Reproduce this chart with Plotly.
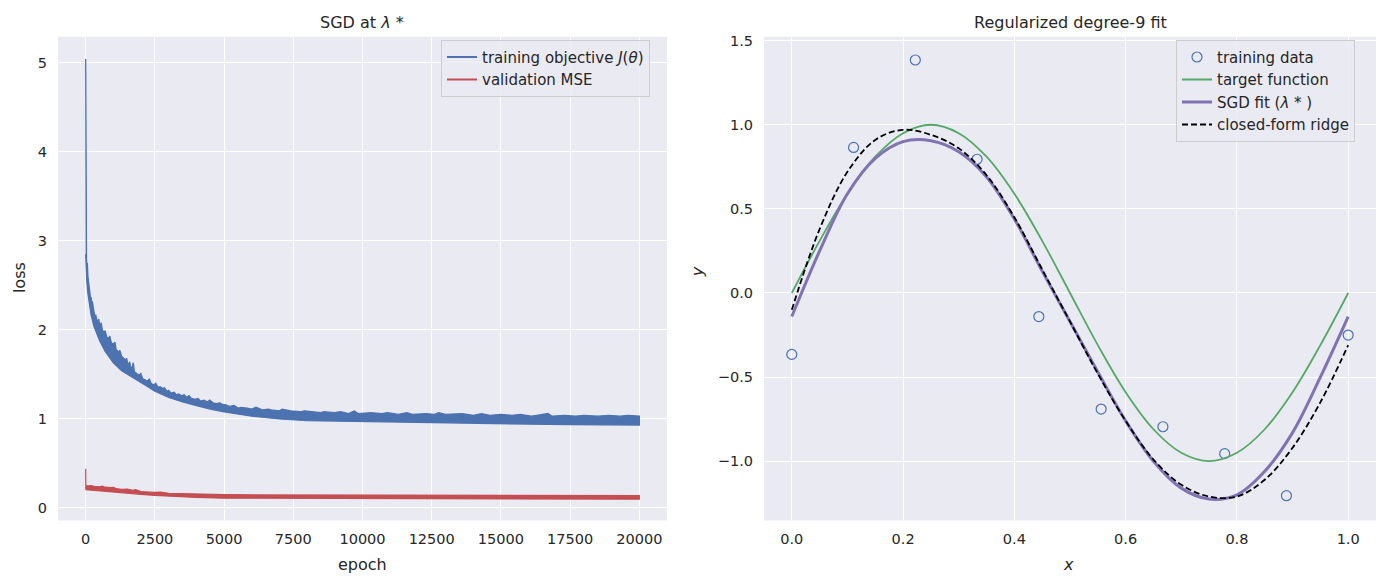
import plotly.graph_objects as go

# ---------------- data: left panel (loss curves, read as noisy-band envelopes) ----------------
# upper edge of the noisy training-objective trace: (epoch, loss)
train_upper = [
    (0, 5.04), (6, 3.00), (15, 2.86), (30, 2.79), (45, 2.72), (60, 2.75), (80, 2.60), (100, 2.55),
    (125, 2.46), (140, 2.49), (170, 2.37), (200, 2.36), (215, 2.29), (240, 2.32), (275, 2.21),
    (300, 2.20), (340, 2.14), (365, 2.17), (400, 2.11), (440, 2.10), (470, 2.12), (520, 2.03),
    (560, 2.08), (600, 2.00), (660, 1.97), (700, 1.99), (760, 1.92), (830, 1.90), (870, 1.93),
    (930, 1.85), (990, 1.84), (1060, 1.86), (1100, 1.78), (1180, 1.75), (1230, 1.77), (1300, 1.70),
    (1380, 1.68), (1420, 1.66), (1480, 1.68), (1530, 1.60), (1590, 1.64), (1630, 1.57), (1680, 1.58),
    (1720, 1.63), (1760, 1.53), (1850, 1.51), (1930, 1.49), (1990, 1.51), (2060, 1.45), (2150, 1.44),
    (2220, 1.42), (2300, 1.45), (2360, 1.40), (2450, 1.38), (2530, 1.40), (2600, 1.36), (2700, 1.36),
    (2780, 1.34), (2850, 1.35), (2930, 1.31), (3000, 1.32), (3080, 1.29), (3200, 1.30), (3280, 1.27),
    (3360, 1.28), (3470, 1.26), (3560, 1.27), (3640, 1.24), (3730, 1.26), (3820, 1.23), (3950, 1.22),
    (4060, 1.23), (4150, 1.20), (4280, 1.21), (4400, 1.19), (4480, 1.21), (4600, 1.18), (4720, 1.17),
    (4850, 1.18), (4950, 1.16), (5040, 1.16), (5200, 1.14), (5360, 1.15), (5520, 1.12), (5600, 1.13),
    (5840, 1.12), (6000, 1.11), (6150, 1.13), (6400, 1.10), (6600, 1.11), (6700, 1.10), (7000, 1.09),
    (7100, 1.11), (7400, 1.09), (7750, 1.08), (7900, 1.09), (8250, 1.08), (8500, 1.07), (8600, 1.08),
    (9000, 1.07), (9200, 1.08), (9500, 1.06), (9700, 1.09), (9850, 1.06), (10300, 1.07), (10700, 1.06),
    (10900, 1.07), (11300, 1.05), (11600, 1.07), (11800, 1.05), (12300, 1.06), (12600, 1.05),
    (12750, 1.07), (13000, 1.05), (13600, 1.06), (14000, 1.04), (14300, 1.06), (14600, 1.04),
    (15000, 1.05), (15400, 1.04), (15700, 1.05), (16100, 1.03), (16300, 1.04), (16700, 1.06),
    (16850, 1.03), (17300, 1.04), (17700, 1.03), (18000, 1.04), (18500, 1.03), (18900, 1.04),
    (19300, 1.03), (19600, 1.04), (20000, 1.03),
]
# lower edge of the training-objective trace
train_lower = [
    (0, 2.85), (10, 2.70), (40, 2.55), (80, 2.41), (120, 2.31), (200, 2.16), (300, 2.04), (400, 1.95),
    (500, 1.88), (700, 1.76), (1000, 1.63), (1300, 1.54), (1600, 1.48), (1900, 1.43), (2200, 1.37),
    (2500, 1.31), (3000, 1.24), (3500, 1.19), (4000, 1.15), (4500, 1.11), (5000, 1.08), (6000, 1.03),
    (7000, 1.00), (8000, 0.98), (10000, 0.965), (12500, 0.955), (15000, 0.945), (17500, 0.935),
    (20000, 0.93),
]
# validation MSE trace edges
val_upper = [
    (0, 0.44), (5, 0.25), (100, 0.247), (200, 0.252), (300, 0.243), (500, 0.238), (600, 0.244),
    (700, 0.233), (900, 0.228), (1000, 0.232), (1100, 0.218), (1300, 0.208), (1500, 0.213),
    (1700, 0.198), (1800, 0.206), (2000, 0.185), (2500, 0.174), (2700, 0.178), (3000, 0.165),
    (3500, 0.16), (4000, 0.155), (5000, 0.15), (6000, 0.147), (8000, 0.145), (10000, 0.145),
    (12500, 0.143), (15000, 0.142), (17500, 0.141), (20000, 0.14),
]
val_lower = [
    (0, 0.24), (10, 0.205), (500, 0.197), (1000, 0.183), (1500, 0.168), (2000, 0.153), (2500, 0.141),
    (3000, 0.131), (4000, 0.118), (5000, 0.11), (7500, 0.104), (10000, 0.102), (15000, 0.1),
    (20000, 0.098),
]

# ---------------- data: right panel ----------------
train_x = [0.0, 0.111, 0.222, 0.333, 0.444, 0.556, 0.667, 0.778, 0.889, 1.0]
train_y = [-0.365, 0.865, 1.385, 0.795, -0.14, -0.69, -0.795, -0.955, -1.205, -0.25]

curve_x = [0.0, 0.05, 0.1, 0.15, 0.2, 0.25, 0.3, 0.35, 0.4, 0.45, 0.5, 0.55, 0.6, 0.65, 0.7, 0.75,
           0.8, 0.85, 0.9, 0.95, 1.0]
target_y = [0.0, 0.31, 0.59, 0.81, 0.95, 1.0, 0.95, 0.81, 0.59, 0.31, 0.0, -0.31, -0.59, -0.81,
            -0.95, -1.0, -0.95, -0.81, -0.59, -0.31, 0.0]
sgd_y = [-0.14, 0.25, 0.59, 0.80, 0.90, 0.905, 0.84, 0.69, 0.44, 0.13, -0.17, -0.47, -0.76, -1.0,
         -1.16, -1.225, -1.20, -1.06, -0.83, -0.50, -0.14]
ridge_y = [-0.10, 0.38, 0.72, 0.91, 0.97, 0.94, 0.86, 0.70, 0.45, 0.14, -0.17, -0.48, -0.76, -0.99,
           -1.14, -1.21, -1.21, -1.11, -0.92, -0.65, -0.31]

# ---------------- styles ----------------
W, H = 1384, 583
BLUE, RED, GREEN, PURPLE = "#4C72B0", "#C44E52", "#55A868", "#8172B2"
BG = "#EAEAF2"
TXT = "#262626"
FONT = "DejaVu Sans"


def px(x):
    return x / W


def py(y):
    return (H - y) / H


def band(upper, lower):
    xs = [e for e, _ in upper] + [e for e, _ in lower[::-1]]
    ys = [v for _, v in upper] + [v for _, v in lower[::-1]]
    return xs, ys


fig = go.Figure()

# left panel: noisy traces drawn as filled bands between their edges
bx, by = band(train_upper, train_lower)
fig.add_trace(go.Scatter(x=bx, y=by, fill="toself", fillcolor=BLUE, mode="lines",
                         line=dict(color=BLUE, width=1.3), showlegend=False, hoverinfo="skip",
                         xaxis="x", yaxis="y"))
rx, ry = band(val_upper, val_lower)
fig.add_trace(go.Scatter(x=rx, y=ry, fill="toself", fillcolor=RED, mode="lines",
                         line=dict(color=RED, width=1.2), showlegend=False, hoverinfo="skip",
                         xaxis="x", yaxis="y"))
# legend entries
fig.add_trace(go.Scatter(x=[None], y=[None], mode="lines", line=dict(color=BLUE, width=2),
                         name="training objective <i>J</i>(<i>θ</i>)", legend="legend",
                         xaxis="x", yaxis="y"))
fig.add_trace(go.Scatter(x=[None], y=[None], mode="lines", line=dict(color=RED, width=2),
                         name="validation MSE", legend="legend", xaxis="x", yaxis="y"))

# right panel
fig.add_trace(go.Scatter(x=train_x, y=train_y, mode="markers", name="training data",
                         marker=dict(symbol="circle-open", size=10, color=BLUE, line=dict(width=1.2)),
                         legend="legend2", xaxis="x2", yaxis="y2"))
fig.add_trace(go.Scatter(x=curve_x, y=target_y, mode="lines", name="target function",
                         line=dict(color=GREEN, width=1.8, shape="spline", smoothing=1.0),
                         legend="legend2", xaxis="x2", yaxis="y2"))
fig.add_trace(go.Scatter(x=curve_x, y=sgd_y, mode="lines", name="SGD fit (<i>λ</i> * )",
                         line=dict(color=PURPLE, width=3, shape="spline", smoothing=1.0),
                         legend="legend2", xaxis="x2", yaxis="y2"))
fig.add_trace(go.Scatter(x=curve_x, y=ridge_y, mode="lines", name="closed-form ridge",
                         line=dict(color="black", width=1.8, dash="6px,3px", shape="spline", smoothing=1.0),
                         legend="legend2", xaxis="x2", yaxis="y2"))

axis_common = dict(showgrid=True, gridcolor="white", gridwidth=1.4, zeroline=False, showline=False,
                   ticks="", tickfont=dict(family=FONT, size=14.5, color=TXT))

left_ticks = [0, 2500, 5000, 7500, 10000, 12500, 15000, 17500, 20000]
right_xticks = [0.0, 0.2, 0.4, 0.6, 0.8, 1.0]
right_yticks = [-1.0, -0.5, 0.0, 0.5, 1.0, 1.5]

fig.update_layout(
    width=W, height=H, margin=dict(l=0, r=0, t=0, b=0),
    paper_bgcolor="white", plot_bgcolor=BG,
    font=dict(family=FONT, color=TXT),
    xaxis=dict(domain=[px(58), px(667)], range=[-1000, 21000], tickvals=left_ticks,
               ticktext=[str(t) for t in left_ticks], anchor="y", ticklabelstandoff=8, **axis_common),
    yaxis=dict(domain=[py(520), py(33)], range=[-0.14, 5.29], tickvals=[0, 1, 2, 3, 4, 5],
               ticktext=["0", "1", "2", "3", "4", "5"], anchor="x", ticklabelstandoff=10, **axis_common),
    xaxis2=dict(domain=[px(764), px(1376)], range=[-0.05, 1.05], tickvals=right_xticks,
                ticktext=["0.0", "0.2", "0.4", "0.6", "0.8", "1.0"], anchor="y2", ticklabelstandoff=8,
                **axis_common),
    yaxis2=dict(domain=[py(520), py(33)], range=[-1.352, 1.523], tickvals=right_yticks,
                ticktext=["−1.0", "−0.5", "0.0", "0.5", "1.0", "1.5"], anchor="x2",
                ticklabelstandoff=10, **axis_common),
    legend=dict(x=px(441), y=py(36), xanchor="left", yanchor="top",
                bgcolor="rgba(234,234,242,0.8)", bordercolor="#CCCCCC", borderwidth=1,
                font=dict(family=FONT, size=15, color=TXT), itemwidth=30),
    legend2=dict(x=px(1176), y=py(36), xanchor="left", yanchor="top",
                 bgcolor="rgba(234,234,242,0.8)", bordercolor="#CCCCCC", borderwidth=1,
                 font=dict(family=FONT, size=15, color=TXT), itemwidth=30),
)

ann = [
    dict(text="SGD at <i>λ</i> *", x=px(362), y=py(19), size=16, angle=0),
    dict(text="Regularized degree-9 fit", x=px(1070), y=py(19), size=16, angle=0),
    dict(text="epoch", x=px(362), y=py(564), size=16, angle=0),
    dict(text="<i>x</i>", x=px(1068), y=py(564), size=16, angle=0),
    dict(text="loss", x=px(19), y=py(276), size=16, angle=-90),
    dict(text="<i>y</i>", x=px(697), y=py(270), size=16, angle=-90),
]
for a in ann:
    fig.add_annotation(text=a["text"], x=a["x"], y=a["y"], xref="paper", yref="paper",
                       xanchor="center", yanchor="middle", showarrow=False, textangle=a["angle"],
                       font=dict(family=FONT, size=a["size"], color=TXT))

fig.write_html("out.html")
